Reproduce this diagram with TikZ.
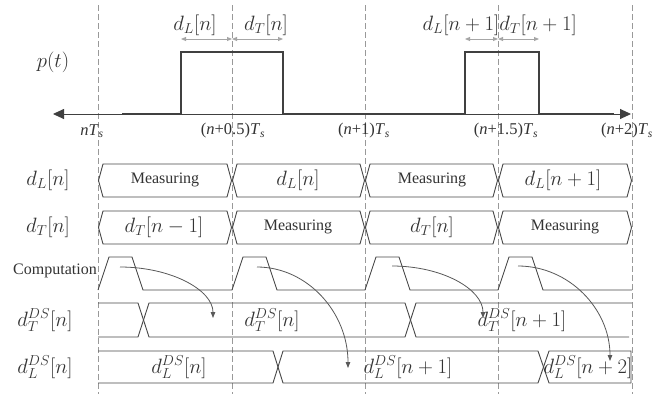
\documentclass[tikz,border=0pt]{standalone}
\usepackage{fontspec}
\setmainfont{Liberation Serif}
\usetikzlibrary{arrows.meta}
\tikzset{
  sigline/.style={draw=black!75, line width=2.2pt},
  axisline/.style={draw=black!75, line width=0.9pt},
  busline/.style={draw=black!72, line width=0.9pt},
  grid/.style={draw=black!40, line width=0.8pt, dash pattern=on 6pt off 3pt},
  dimline/.style={draw=black!35, line width=0.9pt, {Triangle[length=5pt,width=4pt]}-{Triangle[length=5pt,width=4pt]}},
  flow/.style={draw=black!65, line width=0.8pt, -{Triangle[length=6pt,width=4.5pt]}},
  mathlbl/.style={text=black!80, font=\fontsize{20}{24}\selectfont, inner sep=0pt},
  txtlbl/.style={text=black!80, font=\fontsize{16}{19}\selectfont, inner sep=0pt},
  timelbl/.style={text=black!80, font=\fontsize{16.5}{19}\selectfont, inner sep=0pt},
}
\newcommand{\tsub}{\textsubscript{\textit{s}}}
\begin{document}
\begin{tikzpicture}[x=1pt,y=-1pt]
\useasboundingbox (0,0) rectangle (655,394);
\fill[white] (0,0) rectangle (655,394);

% grid lines
\foreach \x in {98,232,365,498,632} {
  \draw[grid] (\x,5) -- (\x,394);
}

% axis
\coordinate (axL) at (53,114);
\coordinate (axR) at (631,114);
\draw[axisline, {Triangle[length=11pt,width=10pt]}-{Triangle[length=11pt,width=10pt]}] (axL) -- (axR);
\draw[sigline, line join=miter] (122,114) -- (181,114) -- (181,52) -- (283,52) -- (283,114)
   -- (465,114) -- (465,52) -- (539,52) -- (539,114) -- (614,114);

% dimension arrows
\coordinate (d1a) at (181,39); \coordinate (d1b) at (232,39); \coordinate (d1c) at (283,39);
\coordinate (d2a) at (465,39); \coordinate (d2b) at (498,39); \coordinate (d2c) at (539,39);
\draw[dimline] (d1a) -- (d1b);
\draw[dimline] (d1b) -- (d1c);
\draw[dimline] (d2a) -- (d2b);
\draw[dimline] (d2b) -- (d2c);
\node[mathlbl] (tdl1) at (195,25) {$d_L[n]$};
\node[mathlbl] (tdt1) at (266,25) {$d_T[n]$};
\node[mathlbl] (tdl2) at (461,25) {$d_L[n+1]$};
\node[mathlbl] (tdt2) at (538,25) {$d_T[n+1]$};

% time labels
\node[timelbl] (t0) at (92,131) {\textit{nT}\tsub};
\node[timelbl] (t1) at (233,131) {(\textit{n}+0.5)\textit{T}\tsub};
\node[timelbl] (t2) at (364,131) {(\textit{n}+1)\textit{T}\tsub};
\node[timelbl] (t3) at (506,131) {(\textit{n}+1.5)\textit{T}\tsub};
\node[timelbl] (t4) at (627,131) {(\textit{n}+2)\textit{T}\tsub};

% left labels
\node[mathlbl] (lp) at (53,62) {$p(t)$};
\node[mathlbl] (ll) at (48,180) {$d_L[n]$};
\node[mathlbl] (lt) at (48,227) {$d_T[n]$};
\node[txtlbl, anchor=east] (lc) at (97,271) {Computation};
\node[mathlbl] (lts) at (45,320) {$d_T^{DS}[n]$};
\node[mathlbl] (lls) at (45,367) {$d_L^{DS}[n]$};

% bus rows
\foreach \a/\b in {98/232,232/365,365/498,498/632} {
  \draw[busline, line join=miter] (\a+0.5,180.5) -- (\a+5,164) -- (\b-5,164) -- (\b-0.5,180.5) -- (\b-5,197) -- (\a+5,197) -- cycle;
  \draw[busline, line join=miter] (\a+0.5,227.5) -- (\a+5,211) -- (\b-5,211) -- (\b-0.5,227.5) -- (\b-5,244) -- (\a+5,244) -- cycle;
}
\node[txtlbl] (m1) at (165,180) {Measuring};
\node[mathlbl] (m2) at (298,180) {$d_L[n]$};
\node[txtlbl] (m3) at (432,180) {Measuring};
\node[mathlbl] (m4) at (563,180) {$d_L[n+1]$};
\node[mathlbl] (n1) at (164,227) {$d_T[n-1]$};
\node[txtlbl] (n2) at (298,227) {Measuring};
\node[mathlbl] (n3) at (432,227) {$d_T[n]$};
\node[txtlbl] (n4) at (565,227) {Measuring};

% computation
\draw[busline] (98,290) -- (109,257) -- (132,257) -- (143,290) -- (232,290) -- (243,257) -- (266,257) -- (277,290)
  -- (365,290) -- (376,257) -- (399,257) -- (410,290) -- (498,290) -- (509,257) -- (532,257) -- (543,290) -- (632,290);

% d_T^DS row
\draw[busline] (98,303) -- (138,303) -- (149,337) -- (405,337) -- (416,303) -- (632,303);
\draw[busline] (98,337) -- (138,337) -- (149,303) -- (405,303) -- (416,337) -- (629,337);
\node[mathlbl] (s1) at (272,320) {$d_T^{DS}[n]$};
\node[mathlbl] (s2) at (522,320) {$d_T^{DS}[n+1]$};

% d_L^DS row
\draw[busline] (98,351) -- (273,351) -- (283,383) -- (538,383) -- (549,351) -- (631,351) -- (631,383);
\draw[busline] (98,383) -- (273,383) -- (283,351) -- (538,351) -- (549,383) -- (631,383);
\node[mathlbl] (r1) at (179,367) {$d_L^{DS}[n]$};
\node[mathlbl] (r2) at (408,367) {$d_L^{DS}[n+1]$};
\node[mathlbl] (r3) at (588,367) {$d_L^{DS}[n+2]$};

% flow arrows
\coordinate (c1s) at (120,267); \coordinate (c1e) at (213,318);
\coordinate (c2s) at (257,267); \coordinate (c2e) at (348,368);
\coordinate (c3s) at (392,266); \coordinate (c3e) at (483,318);
\coordinate (c4s) at (518,266); \coordinate (c4e) at (610,361);
\draw[flow] (c1s) .. controls +(51,0) and +(0,-28) .. (c1e);
\draw[flow] (c2s) .. controls +(50,0) and +(0,-56) .. (c2e);
\draw[flow] (c3s) .. controls +(50,0) and +(0,-29) .. (c3e);
\draw[flow] (c4s) .. controls +(51,0) and +(0,-52) .. (c4e);
\end{tikzpicture}
\end{document}
